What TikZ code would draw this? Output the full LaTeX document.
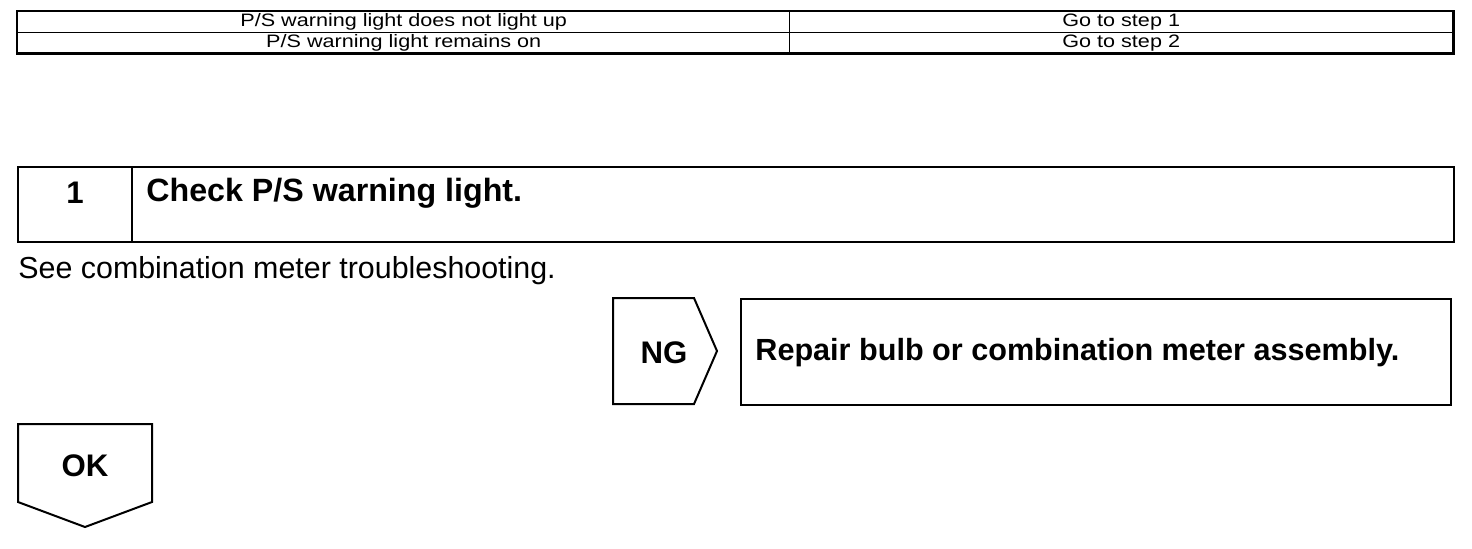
\documentclass[tikz,border=0pt]{standalone}
\usepackage{fontspec}
\setmainfont{Liberation Sans}
\newfontfamily\tabfont[FakeStretch=1.2]{Liberation Sans}
\usetikzlibrary{positioning}

\begin{document}
\begin{tikzpicture}[
  x=0.5pt, y=-0.5pt,
  cellbox/.style={rectangle, draw=black, line width=0.7pt, inner sep=0pt,
    anchor=north west, font=\tabfont\fontsize{9}{10}\selectfont},
  stepbox/.style={rectangle, draw=black, line width=1pt, inner sep=0pt,
    anchor=north west},
  bigtext/.style={inner sep=0pt, font=\bfseries\fontsize{15.6}{18}\selectfont},
  plaintext/.style={inner sep=0pt, font=\fontsize{15.2}{18}\selectfont},
  frame/.style={draw=black, line width=1pt, line join=miter}
]
\useasboundingbox (0,0) rectangle (1472,548);

% symptom table
\node[cellbox, minimum width=386pt, minimum height=10.5pt] (sym1) at (17,11) {P/S warning light does not light up};
\node[cellbox, minimum width=331.5pt, minimum height=10.5pt] (go1) at (789,11) {Go to step 1};
\node[cellbox, minimum width=386pt, minimum height=10pt] (sym2) at (17,32) {P/S warning light remains on};
\node[cellbox, minimum width=331.5pt, minimum height=10pt] (go2) at (789,32) {Go to step 2};
\draw[line width=1.1pt] (sym1.north west) rectangle (go2.south east);

% step 1
\node[stepbox, minimum width=57pt, minimum height=37.5pt] (num) at (17,166) {};
\node[stepbox, minimum width=661pt, minimum height=37.5pt] (title) at (131,166) {};
\node[bigtext] (one) at (75,193) {1};
\node[bigtext, anchor=west, font=\bfseries\fontsize{16.1}{18}\selectfont] (check) at (146,193) {Check P/S warning light.};
\node[plaintext, anchor=west] (see) at (18,271) {See combination meter troubleshooting.};

% NG branch
\draw[frame] (613,298) -- (694,298) -- (717,351) -- (694,404) -- (613,404) -- cycle;
\node[bigtext] (ng) at (664,353) {NG};
\node[stepbox, minimum width=355pt, minimum height=53pt] (repair) at (740,298) {};
\node[bigtext, anchor=west, font=\bfseries\fontsize{15.3}{18}\selectfont] (fix) at (755,353) {Repair bulb or combination meter assembly.};

% OK branch
\draw[frame] (18,424) -- (152,424) -- (152,502) -- (85,527) -- (18,502) -- cycle;
\node[bigtext] (ok) at (85,466) {OK};

\end{tikzpicture}
\end{document}
